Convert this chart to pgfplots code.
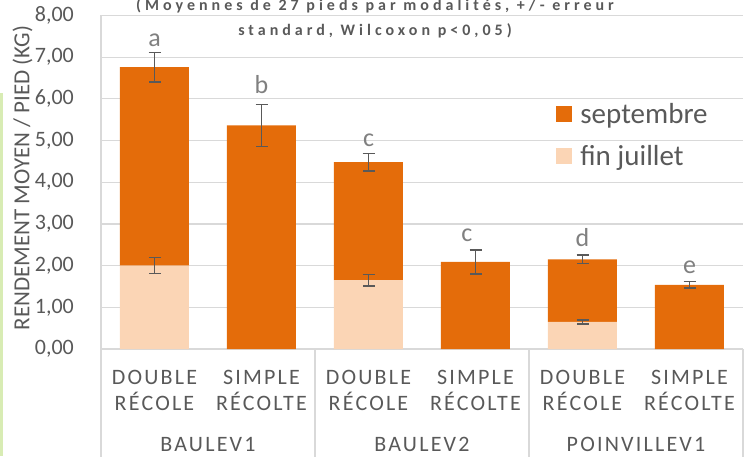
\documentclass[border=0pt]{standalone}
\usepackage{pgfplots}
\pgfplotsset{compat=1.18}
\usepackage{fontspec}
\setmainfont{Carlito}
\newfontfamily\titlefont[LetterSpace=25]{Carlito}
\newfontfamily\catfont[LetterSpace=10]{Carlito}
\definecolor{sept}{HTML}{E46C0A}
\definecolor{juil}{HTML}{FBD5B5}
\definecolor{txtgray}{HTML}{595959}
\definecolor{letgray}{HTML}{808080}
\definecolor{gridgray}{HTML}{D9D9D9}
\definecolor{errgray}{HTML}{595959}
\definecolor{sidegreen}{HTML}{D8ECB4}
\pgfplotsset{sqlegend/.style={legend image code/.code={\fill[##1] (0pt,-8pt) rectangle (16pt,8pt);}}}
\begin{document}
\begin{tikzpicture}
\useasboundingbox (0,0) rectangle (745pt,456pt);
\clip (0,0) rectangle (745pt,456pt);
\fill[sidegreen] (0,0) rectangle (3pt,363pt);
\begin{axis}[
  at={(101pt,107pt)}, anchor=south west,
  scale only axis, width=642pt, height=333.6pt,
  ybar stacked, bar width=69pt,
  xmin=-0.5, xmax=5.5, ymin=0, ymax=8,
  ytick={0,1,...,8},
  ymajorgrids, grid style={draw=gridgray, line width=1.2pt},
  axis lines=left, axis line style={draw=gridgray, line width=1.2pt, -},
  major tick length=0,
  xtick={0,1,2,3,4,5},
  xticklabels={{DOUBLE\\RÉCOLE},{SIMPLE\\RÉCOLTE},{DOUBLE\\RÉCOLE},{SIMPLE\\RÉCOLTE},{DOUBLE\\RÉCOLE},{SIMPLE\\RÉCOLTE}},
  xticklabel style={align=center, font=\catfont\fontsize{22}{26}\selectfont, text=txtgray, inner sep=0pt, anchor=north, yshift=-21pt},
  yticklabel style={font=\fontsize{22}{26}\selectfont, text=txtgray, inner sep=0pt, anchor=east, xshift=-27pt},
  /pgf/number format/fixed, /pgf/number format/fixed zerofill,
  /pgf/number format/precision=2, /pgf/number format/use comma,
  /pgf/number format/assume math mode=true,
  extra x ticks={-0.5,1.5,3.5,5.5}, extra x tick labels={{},{},{},{}},
  extra x tick style={grid=none, tick align=outside, major tick length=108pt, tick style={draw=gridgray, line width=1.2pt}},
  ylabel={RENDEMENT MOYEN / PIED (KG)},
  ylabel style={at={(axis description cs:-0.122,0.513)}, anchor=center, font=\fontsize{23}{27}\selectfont, text=txtgray},
  reverse legend, legend cell align=left,
  legend style={at={(axis description cs:0.709,0.737)}, anchor=north west, draw=none, fill=none,
    font=\fontsize{29}{34}\selectfont, text=txtgray, inner sep=0pt, row sep=20pt, column sep=8pt,
    nodes={inner sep=0pt}},
]
\addplot[fill=juil, draw=none, sqlegend]
  coordinates {(0,2.00) (1,0) (2,1.65) (3,0) (4,0.65) (5,0)};
\addlegendentry{fin juillet}
\addplot[fill=sept, draw=none, sqlegend]
  coordinates {(0,4.76) (1,5.36) (2,2.83) (3,2.09) (4,1.50) (5,1.54)};
\addlegendentry{septembre}
\end{axis}
\begin{axis}[
  at={(101pt,107pt)}, anchor=south west,
  scale only axis, width=642pt, height=333.6pt,
  xmin=-0.5, xmax=5.5, ymin=0, ymax=8,
  axis lines=left, axis line style={draw=none},
  ytick=\empty, major tick length=0,
  xtick={0.5,2.5,4.5}, xticklabels={BAULEV1,BAULEV2,POINVILLEV1},
  xticklabel style={font=\catfont\fontsize{22}{26}\selectfont, text=txtgray, inner sep=0pt, anchor=north, yshift=-88pt},
]
\addplot[draw=none, mark=none, forget plot,
  error bars/.cd, y dir=both, y explicit,
  error bar style={draw=errgray, line width=1.6pt},
  error mark options={rotate=90, mark size=6pt, draw=errgray, line width=1.6pt}]
  coordinates {(0,2.00) +- (0,0.19) (2,1.65) +- (0,0.14) (4,0.65) +- (0,0.05)};
\addplot[draw=none, mark=none, forget plot,
  error bars/.cd, y dir=both, y explicit,
  error bar style={draw=errgray, line width=1.6pt},
  error mark options={rotate=90, mark size=6pt, draw=errgray, line width=1.6pt}]
  coordinates {(0,6.76) +- (0,0.35) (1,5.36) +- (0,0.50) (2,4.48) +- (0,0.21)
               (3,2.09) +- (0,0.29) (4,2.15) +- (0,0.10) (5,1.54) +- (0,0.08)};
\addplot[draw=none, mark=none, forget plot, nodes near coords, point meta=explicit symbolic,
  every node near coord/.append style={anchor=base, inner sep=0pt, font=\fontsize{26}{30}\selectfont, text=letgray}]
  coordinates {(0,7.25) [a] (1,6.12) [b] (2,4.86) [c] (2.92,2.57) [c] (4,2.45) [d] (5,1.82) [e]};
\end{axis}
\node[anchor=base, text=txtgray, font=\titlefont\bfseries\fontsize{16}{19}\selectfont] at (375pt,445.5pt) {(Moyennes de 27 pieds par modalités, +/- erreur};
\node[anchor=base, text=txtgray, font=\titlefont\bfseries\fontsize{16}{19}\selectfont] at (375pt,420pt) {standard, Wilcoxon p<0,05)};
\end{tikzpicture}
\end{document}
